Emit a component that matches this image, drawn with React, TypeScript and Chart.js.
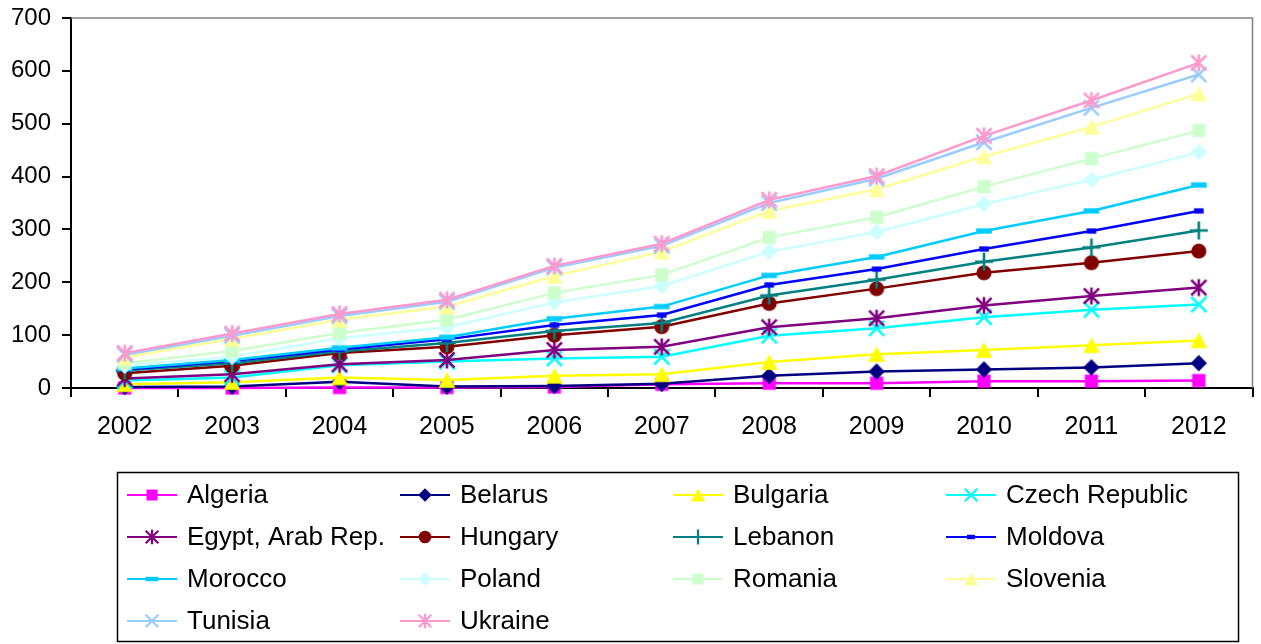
import React, { useEffect, useRef } from 'react';
import { Chart, registerables } from 'chart.js';

Chart.register(...registerables);

// Categories
const years = ['2002', '2003', '2004', '2005', '2006', '2007', '2008', '2009', '2010', '2011', '2012'];

// Plotted (stacked, cumulative) values
const algeria = [0, 0, 1, 1, 2, 7, 9, 9, 13, 13, 14];
const belarus = [2, 3, 12, 3, 4, 8, 23, 31, 35, 39, 47];
const bulgaria = [7, 11, 20, 15, 23, 26, 49, 64, 72, 81, 90];
const czechRepublic = [14, 20, 43, 50, 56, 59, 99, 113, 134, 148, 158];
const egypt = [18, 26, 45, 53, 72, 78, 115, 132, 156, 174, 190];
const hungary = [28, 42, 66, 78, 100, 116, 160, 188, 218, 237, 259];
const lebanon = [33, 47, 69, 85, 108, 123, 175, 205, 239, 266, 298];
const moldova = [35, 51, 73, 92, 119, 138, 195, 225, 263, 297, 335];
const morocco = [37, 53, 76, 96, 131, 154, 213, 248, 297, 335, 384];
const poland = [42, 59, 94, 115, 162, 193, 258, 295, 348, 394, 446];
const romania = [47, 70, 104, 129, 180, 214, 285, 323, 381, 434, 487];
const slovenia = [58, 93, 129, 154, 212, 258, 335, 376, 438, 494, 557];
const tunisia = [63, 99, 136, 163, 228, 269, 350, 396, 465, 530, 593];
const ukraine = [66, 103, 140, 167, 231, 273, 356, 401, 477, 544, 615];

const seriesNames = [
  'Algeria', 'Belarus', 'Bulgaria', 'Czech Republic',
  'Egypt, Arab Rep.', 'Hungary', 'Lebanon', 'Moldova',
  'Morocco', 'Poland', 'Romania', 'Slovenia',
  'Tunisia', 'Ukraine',
];
const seriesValues = [
  algeria, belarus, bulgaria, czechRepublic,
  egypt, hungary, lebanon, moldova,
  morocco, poland, romania, slovenia,
  tunisia, ukraine,
];
const seriesColors = [
  '#FF00FF', '#000080', '#FFFF00', '#00FFFF',
  '#800080', '#800000', '#008080', '#0000FF',
  '#00CCFF', '#CCFFFF', '#CCFFCC', '#FFFF99',
  '#99CCFF', '#FF99CC',
];
const seriesMarkers = [
  'square', 'diamond', 'triangle', 'x',
  'star', 'circle', 'plus', 'dashS',
  'dashL', 'diamond', 'square', 'triangle',
  'x', 'star',
];

const yTicks = [0, 100, 200, 300, 400, 500, 600, 700];

const FONT = '"Liberation Sans", Arial, sans-serif';

function makeMarker(kind: string, color: string, scale: number): HTMLCanvasElement {
  const size = Math.round(20 * scale / 2) * 2;
  const cv = document.createElement('canvas');
  cv.width = size;
  cv.height = size;
  const ctx = cv.getContext('2d')!;
  const c = size / 2;
  const s = scale;
  ctx.fillStyle = color;
  ctx.strokeStyle = color;
  ctx.lineWidth = Math.max(1.5, 2.2 * s);
  ctx.lineCap = 'butt';
  switch (kind) {
    case 'square': {
      const h = 5.5 * s;
      ctx.fillRect(c - h, c - h, 2 * h, 2 * h);
      break;
    }
    case 'diamond': {
      const h = 6.8 * s;
      ctx.beginPath();
      ctx.moveTo(c, c - h);
      ctx.lineTo(c + h, c);
      ctx.lineTo(c, c + h);
      ctx.lineTo(c - h, c);
      ctx.closePath();
      ctx.fill();
      break;
    }
    case 'triangle': {
      const w = 7 * s;
      const h = 6.5 * s;
      ctx.beginPath();
      ctx.moveTo(c, c - h);
      ctx.lineTo(c + w, c + h);
      ctx.lineTo(c - w, c + h);
      ctx.closePath();
      ctx.fill();
      break;
    }
    case 'circle': {
      ctx.beginPath();
      ctx.arc(c, c, 6.3 * s, 0, Math.PI * 2);
      ctx.fill();
      break;
    }
    case 'x': {
      const h = 6.3 * s;
      ctx.beginPath();
      ctx.moveTo(c - h, c - h);
      ctx.lineTo(c + h, c + h);
      ctx.moveTo(c + h, c - h);
      ctx.lineTo(c - h, c + h);
      ctx.stroke();
      break;
    }
    case 'star': {
      const h = 6.3 * s;
      ctx.beginPath();
      ctx.moveTo(c - h, c - h);
      ctx.lineTo(c + h, c + h);
      ctx.moveTo(c + h, c - h);
      ctx.lineTo(c - h, c + h);
      ctx.moveTo(c, c - h - 1);
      ctx.lineTo(c, c + h + 1);
      ctx.stroke();
      break;
    }
    case 'plus': {
      const h = 7.5 * s;
      ctx.beginPath();
      ctx.moveTo(c, c - h);
      ctx.lineTo(c, c + h);
      ctx.moveTo(c - h, c);
      ctx.lineTo(c + h, c);
      ctx.stroke();
      break;
    }
    case 'dashS': {
      ctx.fillRect(c - 4 * s, c - 2.2 * s, 8 * s, 4.4 * s);
      break;
    }
    case 'dashL': {
      ctx.fillRect(c - 6.5 * s, c - 2.2 * s, 13 * s, 4.4 * s);
      break;
    }
  }
  return cv;
}

const plotBorderPlugin = {
  id: 'plotBorder',
  beforeDatasetsDraw(chart: any) {
    const { ctx, chartArea } = chart;
    ctx.save();
    ctx.strokeStyle = '#808080';
    ctx.lineWidth = 1.5;
    ctx.beginPath();
    ctx.moveTo(chartArea.left, chartArea.top);
    ctx.lineTo(chartArea.right, chartArea.top);
    ctx.lineTo(chartArea.right, chartArea.bottom);
    ctx.stroke();
    ctx.restore();
  },
};

function makeLegendPlugin(legendMarkers: HTMLCanvasElement[]) {
  return {
    id: 'gridLegend',
    afterDraw(chart: any) {
      const ctx = chart.ctx as CanvasRenderingContext2D;
      ctx.save();
      ctx.strokeStyle = '#000';
      ctx.lineWidth = 1.5;
      ctx.strokeRect(117.5, 472.5, 1121, 169);
      ctx.font = `26px ${FONT}`;
      ctx.textBaseline = 'middle';
      ctx.textAlign = 'left';
      const ds = chart.data.datasets;
      ds.forEach((d: any, i: number) => {
        const col = i % 4;
        const row = Math.floor(i / 4);
        const x0 = 127 + col * 273;
        const y = 495 + row * 42;
        ctx.strokeStyle = d.borderColor;
        ctx.lineWidth = 2;
        ctx.beginPath();
        ctx.moveTo(x0, y);
        ctx.lineTo(x0 + 50, y);
        ctx.stroke();
        const m = legendMarkers[i];
        ctx.drawImage(m, x0 + 25 - m.width / 2, y - m.height / 2);
        ctx.fillStyle = '#000';
        ctx.fillText(d.label, x0 + 60, y + 1);
      });
      ctx.restore();
    },
  };
}

export default function App() {
  const canvasRef = useRef<HTMLCanvasElement | null>(null);

  useEffect(() => {
    const canvas = canvasRef.current;
    if (!canvas) return;
    const chartMarkers = seriesMarkers.map((k, i) => makeMarker(k, seriesColors[i], 1.2));
    const legendMarkers = seriesMarkers.map((k, i) => makeMarker(k, seriesColors[i], 1.0));
    const n = seriesNames.length;
    const chart = new Chart(canvas, {
      type: 'line',
      data: {
        labels: years,
        datasets: seriesNames.map((name, i) => ({
          label: name,
          data: seriesValues[i],
          borderColor: seriesColors[i],
          backgroundColor: seriesColors[i],
          borderWidth: 2.5,
          pointStyle: chartMarkers[i] as any,
          pointRadius: 6,
          pointHoverRadius: 6,
          tension: 0,
          fill: false,
          clip: false as any,
          order: n - 1 - i,
        })),
      },
      options: {
        animation: false,
        responsive: false,
        devicePixelRatio: 1,
        events: [],
        layout: { padding: { left: 0, top: 18, right: 4, bottom: 196 } },
        plugins: {
          legend: { display: false },
          tooltip: { enabled: false },
        },
        scales: {
          x: {
            type: 'category',
            offset: true,
            grid: {
              offset: true,
              drawOnChartArea: false,
              drawTicks: true,
              tickLength: 9,
              color: '#000',
              lineWidth: 2,
            },
            border: { display: true, color: '#000', width: 2 },
            ticks: {
              color: '#000',
              font: { family: FONT, size: 25 },
              padding: 15,
              maxRotation: 0,
              autoSkip: false,
            },
            afterFit(scale: any) {
              scale.height = 60;
              scale.paddingLeft = 0;
              scale.paddingRight = 0;
            },
          },
          y: {
            min: 0,
            max: 700,
            afterBuildTicks(scale: any) {
              scale.ticks = yTicks.map((v) => ({ value: v }));
            },
            grid: {
              drawOnChartArea: false,
              drawTicks: true,
              tickLength: 9,
              color: '#000',
              lineWidth: 2,
            },
            border: { display: true, color: '#000', width: 2 },
            ticks: {
              color: '#000',
              font: { family: FONT, size: 24 },
              padding: 11,
            },
            afterFit(scale: any) {
              scale.width = 71;
              scale.paddingTop = 0;
              scale.paddingBottom = 0;
            },
          },
        },
      },
      plugins: [plotBorderPlugin, makeLegendPlugin(legendMarkers)],
    });
    return () => chart.destroy();
  }, []);

  return (
    <div style={{ position: 'fixed', left: 0, top: 0, width: 1261, height: 644, background: '#fff' }}>
      <canvas ref={canvasRef} width={1261} height={644} style={{ display: 'block', width: 1261, height: 644 }} />
    </div>
  );
}
